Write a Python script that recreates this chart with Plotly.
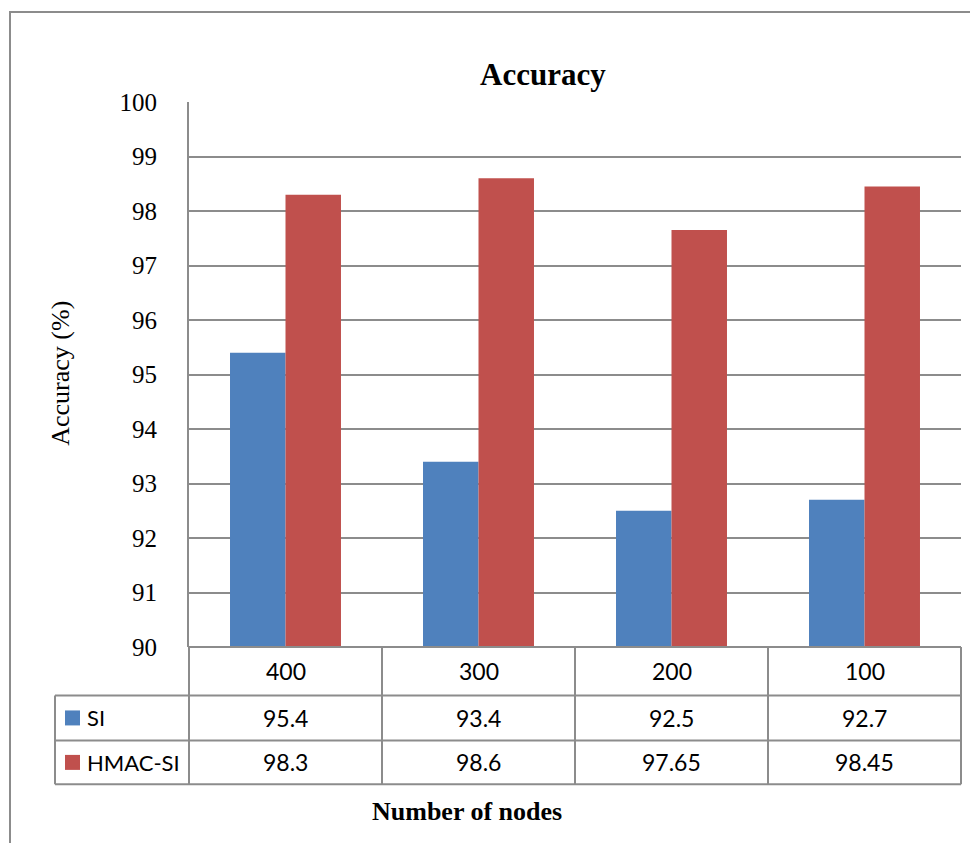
import plotly.graph_objects as go

categories = ["400", "300", "200", "100"]
series_names = ["SI", "HMAC-SI"]
si_values = [95.4, 93.4, 92.5, 92.7]
hmac_values = [98.3, 98.6, 97.65, 98.45]
colors = ["#4F81BD", "#C0504D"]
y_ticks = list(range(90, 101))

OFF = 8  # page body margin offset
W, H = 978 - OFF, 843 - OFF
L, R, T, B = 189 - OFF, 961 - OFF, 102 - OFF, 647.5 - OFF
pw, ph = R - L, B - T


def px(x):
    return (x - OFF - L) / pw


def py(y):
    return (B - (y - OFF)) / ph


fig = go.Figure()
for name, vals, col in zip(series_names, [si_values, hmac_values], colors):
    fig.add_trace(go.Bar(x=categories, y=vals, name=name, marker=dict(color=col, line=dict(width=0)),
                         showlegend=False))

grid = "#8c8c8c"
shapes = []
# outer border
shapes.append(dict(type="rect", xref="paper", yref="paper", x0=px(10), x1=px(1000), y0=py(12), y1=py(880),
                   line=dict(color=grid, width=2), fillcolor="rgba(0,0,0,0)", layer="below"))

row_y = [647.5, 696, 741, 785]
col_x = [189 + i * 772 / len(categories) for i in range(len(categories) + 1)]
tbl_left = 55
shapes.append(dict(type="line", xref="paper", yref="paper", x0=px(189), x1=px(961), y0=py(row_y[0]), y1=py(row_y[0]),
                   line=dict(color=grid, width=2)))
for yy in row_y[1:]:
    shapes.append(dict(type="line", xref="paper", yref="paper", x0=px(tbl_left), x1=px(961), y0=py(yy), y1=py(yy),
                       line=dict(color=grid, width=2)))
for xx in col_x:
    shapes.append(dict(type="line", xref="paper", yref="paper", x0=px(xx), x1=px(xx), y0=py(row_y[0]),
                       y1=py(row_y[-1]), line=dict(color=grid, width=2)))
shapes.append(dict(type="line", xref="paper", yref="paper", x0=px(tbl_left), x1=px(tbl_left), y0=py(row_y[1]),
                   y1=py(row_y[-1]), line=dict(color=grid, width=2)))

annotations = []
tfont = dict(family="Lato, Carlito, sans-serif", size=23, color="black")
for i, c in enumerate(categories):
    cx = (col_x[i] + col_x[i + 1]) / 2
    annotations.append(dict(xref="paper", yref="paper", x=px(cx), y=py((row_y[0] + row_y[1]) / 2), text=c,
                            showarrow=False, font=tfont, xanchor="center", yanchor="middle"))
    for r, vals in enumerate([si_values, hmac_values]):
        annotations.append(dict(xref="paper", yref="paper", x=px(cx), y=py((row_y[r + 1] + row_y[r + 2]) / 2),
                                text=str(vals[i]), showarrow=False, font=tfont, xanchor="center", yanchor="middle"))

for r, (name, col) in enumerate(zip(series_names, colors)):
    yc = (row_y[r + 1] + row_y[r + 2]) / 2
    shapes.append(dict(type="rect", xref="paper", yref="paper", x0=px(65), x1=px(80), y0=py(yc - 7.5), y1=py(yc + 7.5),
                       fillcolor=col, line=dict(width=0)))
    annotations.append(dict(xref="paper", yref="paper", x=px(85), y=py(yc), text=name, showarrow=False,
                            font=dict(family="Lato, Carlito, sans-serif", size=22, color="black"),
                            xanchor="left", yanchor="middle"))

serif = "Liberation Serif, Times New Roman, serif"
annotations.append(dict(xref="paper", yref="paper", x=px(543), y=py(74), text="<b>Accuracy</b>", showarrow=False,
                        font=dict(family=serif, size=31, color="black"), xanchor="center", yanchor="middle"))
annotations.append(dict(xref="paper", yref="paper", x=px(467), y=py(812), text="<b>Number of nodes</b>",
                        showarrow=False, font=dict(family=serif, size=26, color="black"),
                        xanchor="center", yanchor="middle"))
annotations.append(dict(xref="paper", yref="paper", x=px(61), y=py(374), text="Accuracy (%)", showarrow=False,
                        textangle=-90, font=dict(family=serif, size=26, color="black"),
                        xanchor="center", yanchor="middle"))

fig.update_layout(
    width=W, height=H, autosize=False,
    margin=dict(l=L, r=W - R, t=T, b=H - B, pad=0),
    paper_bgcolor="white", plot_bgcolor="white",
    barmode="group", bargap=0.425, bargroupgap=0,
    shapes=shapes, annotations=annotations,
    xaxis=dict(type="category", showticklabels=False, showgrid=False, zeroline=False, showline=False,
               ticks=""),
    yaxis=dict(range=[90, 100], tickvals=y_ticks, ticktext=[str(v) for v in y_ticks], showgrid=True,
               gridcolor=grid, gridwidth=2, showline=True, linecolor=grid, linewidth=2, zeroline=False,
               ticks="", ticklabelstandoff=25,
               tickfont=dict(family=serif, size=25, color="black")),
)

fig.write_html("out.html")
